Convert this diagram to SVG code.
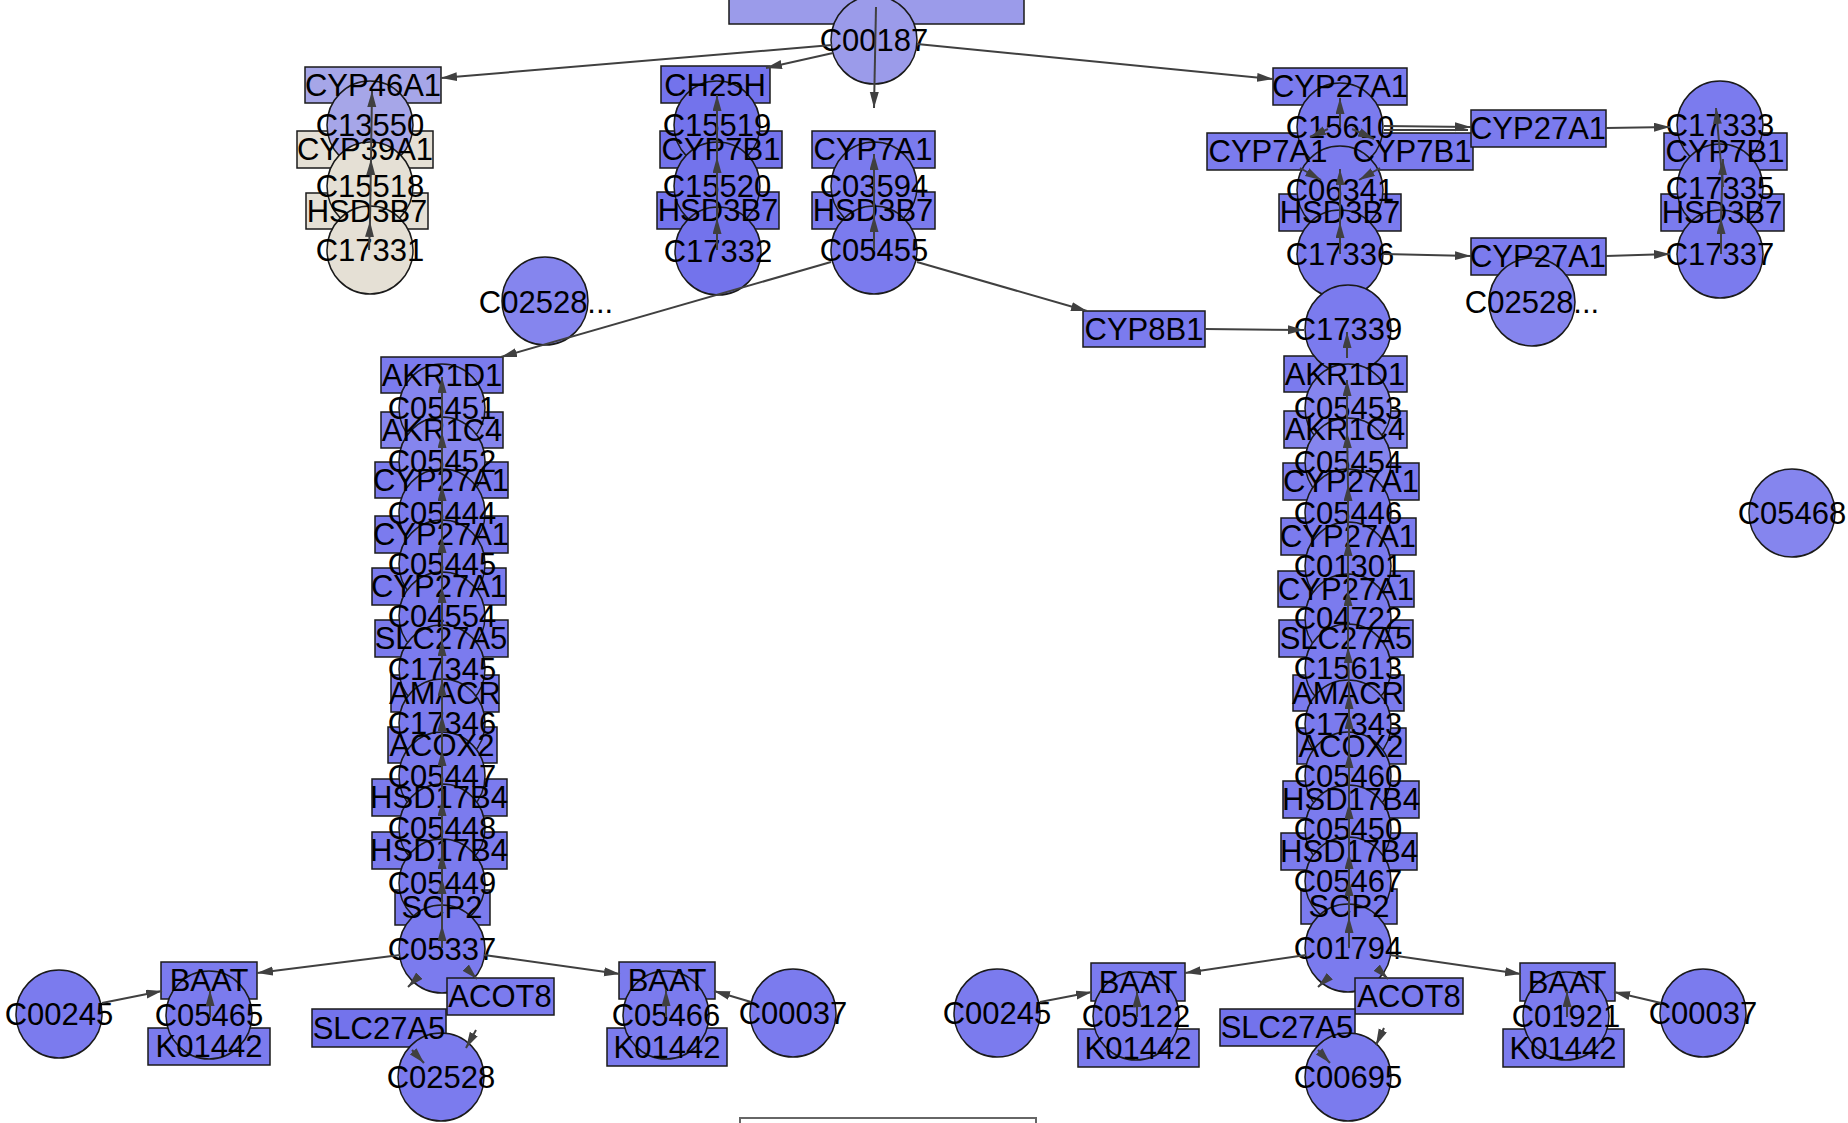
<svg xmlns="http://www.w3.org/2000/svg" width="1848" height="1123" viewBox="0 0 1848 1123">
<style>
.b{stroke:#1a1a1a;stroke-width:1.5}
.s{fill:#7b7bee}
.d{fill:#7373ec}
.l{fill:#8585ee}
.t{fill:#9b9bea}
.p{fill:#a6a6e8}
.e{fill:#e5e0d5}
.lb text{font-family:"Liberation Sans",Arial,sans-serif;font-size:31px;text-anchor:middle;fill:#000}
.edges line{stroke:#404040;stroke-width:2;marker-end:url(#ar)}
.edges line.nm{marker-end:none}
</style>
<defs>
<marker id="ar" markerUnits="userSpaceOnUse" markerWidth="18" markerHeight="10" refX="16" refY="4.5" orient="auto"><path d="M0,0 L16,4.5 L0,9 z" fill="#404040"/></marker>
</defs>
<rect width="1848" height="1123" fill="#fff"/>
<g id="nodes">
<g id="top-node"><rect class="b t" x="729" y="-10" width="295" height="34"/></g>
<g id="CYP46A1"><rect class="b p" x="305" y="67" width="136" height="36"/></g>
<g id="CYP39A1"><rect class="b e" x="297" y="131" width="136" height="37"/></g>
<g id="HSD3B7-1"><rect class="b e" x="306" y="193" width="122" height="36"/></g>
<g id="CH25H"><rect class="b d" x="661" y="66" width="109" height="37"/></g>
<g id="CYP7B1-1"><rect class="b d" x="660" y="131" width="122" height="37"/></g>
<g id="HSD3B7-2"><rect class="b d" x="657" y="192" width="122" height="37"/></g>
<g id="CYP7A1-1"><rect class="b s" x="812" y="131" width="123" height="37"/></g>
<g id="HSD3B7-3"><rect class="b s" x="812" y="192" width="123" height="37"/></g>
<g id="CYP27A1-top"><rect class="b s" x="1273" y="68" width="134" height="37"/></g>
<g id="CYP7A1-2"><rect class="b s" x="1207" y="133" width="122" height="37"/></g>
<g id="CYP7B1-2"><rect class="b s" x="1351" y="133" width="122" height="37"/></g>
<g id="HSD3B7-4"><rect class="b s" x="1279" y="194" width="122" height="37"/></g>
<g id="CYP27A1-m1"><rect class="b s" x="1471" y="110" width="135" height="37"/></g>
<g id="CYP27A1-m2"><rect class="b s" x="1471" y="238" width="135" height="37"/></g>
<g id="CYP7B1-3"><rect class="b s" x="1664" y="133" width="123" height="37"/></g>
<g id="HSD3B7-5"><rect class="b s" x="1661" y="194" width="123" height="37"/></g>
<g id="CYP8B1"><rect class="b s" x="1083" y="311" width="122" height="36"/></g>
<g id="AKR1D1-L"><rect class="b s" x="381" y="357" width="122" height="36"/></g>
<g id="AKR1C4-L"><rect class="b l" x="381" y="412" width="122" height="36"/></g>
<g id="CYP27A1-L1"><rect class="b s" x="375" y="462" width="133" height="36"/></g>
<g id="CYP27A1-L2"><rect class="b s" x="375" y="516" width="133" height="37"/></g>
<g id="CYP27A1-L3"><rect class="b s" x="372" y="568" width="134" height="37"/></g>
<g id="SLC27A5-L"><rect class="b s" x="375" y="620" width="133" height="37"/></g>
<g id="AMACR-L"><rect class="b s" x="391" y="675" width="108" height="37"/></g>
<g id="ACOX2-L"><rect class="b s" x="388" y="727" width="109" height="36"/></g>
<g id="HSD17B4-L1"><rect class="b s" x="372" y="779" width="135" height="37"/></g>
<g id="HSD17B4-L2"><rect class="b s" x="372" y="832" width="135" height="37"/></g>
<g id="SCP2-L"><rect class="b s" x="395" y="890" width="95" height="35"/></g>
<g id="AKR1D1-R"><rect class="b s" x="1284" y="356" width="123" height="36"/></g>
<g id="AKR1C4-R"><rect class="b l" x="1284" y="411" width="123" height="37"/></g>
<g id="CYP27A1-R1"><rect class="b s" x="1283" y="463" width="136" height="37"/></g>
<g id="CYP27A1-R2"><rect class="b s" x="1281" y="518" width="135" height="37"/></g>
<g id="CYP27A1-R3"><rect class="b s" x="1278" y="571" width="136" height="36"/></g>
<g id="SLC27A5-R"><rect class="b s" x="1279" y="620" width="134" height="37"/></g>
<g id="AMACR-R"><rect class="b s" x="1293" y="675" width="111" height="36"/></g>
<g id="ACOX2-R"><rect class="b s" x="1297" y="728" width="109" height="36"/></g>
<g id="HSD17B4-R1"><rect class="b s" x="1283" y="781" width="136" height="37"/></g>
<g id="HSD17B4-R2"><rect class="b s" x="1281" y="833" width="136" height="37"/></g>
<g id="SCP2-R"><rect class="b s" x="1301" y="889" width="96" height="35"/></g>
<g id="C00187"><ellipse class="b t" cx="874" cy="40" rx="43" ry="44"/></g>
<g id="C13550"><ellipse class="b p" cx="370" cy="125" rx="43" ry="44"/></g>
<g id="C15518"><ellipse class="b e" cx="370" cy="186" rx="43" ry="44"/></g>
<g id="C17331"><ellipse class="b e" cx="370" cy="250" rx="43" ry="44"/></g>
<g id="C15519"><ellipse class="b d" cx="717" cy="125" rx="43" ry="44"/></g>
<g id="C15520"><ellipse class="b d" cx="717" cy="186" rx="43" ry="44"/></g>
<g id="C17332"><ellipse class="b d" cx="718" cy="251" rx="43" ry="44"/></g>
<g id="C03594"><ellipse class="b s" cx="874" cy="186" rx="43" ry="44"/></g>
<g id="C05455"><ellipse class="b s" cx="874" cy="250" rx="43" ry="44"/></g>
<g id="C02528-L"><ellipse class="b l" cx="545" cy="301" rx="43" ry="44"/></g>
<g id="C15610"><ellipse class="b s" cx="1340" cy="127" rx="43" ry="44"/></g>
<g id="C06341"><ellipse class="b s" cx="1340" cy="190" rx="43" ry="44"/></g>
<g id="C17336"><ellipse class="b s" cx="1340" cy="254" rx="43" ry="44"/></g>
<g id="C17339"><ellipse class="b s" cx="1348" cy="329" rx="43" ry="44"/></g>
<g id="C17333"><ellipse class="b s" cx="1720" cy="125" rx="43" ry="44"/></g>
<g id="C17335"><ellipse class="b s" cx="1720" cy="188" rx="43" ry="44"/></g>
<g id="C17337"><ellipse class="b s" cx="1720" cy="254" rx="43" ry="44"/></g>
<g id="C02528-R"><ellipse class="b l" cx="1532" cy="302" rx="43" ry="44"/></g>
<g id="C05468"><ellipse class="b l" cx="1792" cy="513" rx="43" ry="44"/></g>
<g id="C05451"><ellipse class="b l" cx="442" cy="408" rx="43" ry="44"/></g>
<g id="C05452"><ellipse class="b l" cx="442" cy="461" rx="43" ry="44"/></g>
<g id="C05444"><ellipse class="b s" cx="442" cy="513" rx="43" ry="44"/></g>
<g id="C05445"><ellipse class="b s" cx="442" cy="564" rx="43" ry="44"/></g>
<g id="C04554"><ellipse class="b s" cx="442" cy="616" rx="43" ry="44"/></g>
<g id="C17345"><ellipse class="b s" cx="442" cy="669" rx="43" ry="44"/></g>
<g id="C17346"><ellipse class="b s" cx="442" cy="723" rx="43" ry="44"/></g>
<g id="C05447"><ellipse class="b s" cx="442" cy="776" rx="43" ry="44"/></g>
<g id="C05448"><ellipse class="b s" cx="442" cy="828" rx="43" ry="44"/></g>
<g id="C05449"><ellipse class="b s" cx="442" cy="883" rx="43" ry="44"/></g>
<g id="C05337"><ellipse class="b s" cx="442" cy="949" rx="43" ry="44"/></g>
<g id="C05453"><ellipse class="b l" cx="1348" cy="408" rx="43" ry="44"/></g>
<g id="C05454"><ellipse class="b l" cx="1348" cy="462" rx="43" ry="44"/></g>
<g id="C05446"><ellipse class="b s" cx="1348" cy="513" rx="43" ry="44"/></g>
<g id="C01301"><ellipse class="b s" cx="1348" cy="566" rx="43" ry="44"/></g>
<g id="C04722"><ellipse class="b s" cx="1348" cy="618" rx="43" ry="44"/></g>
<g id="C15613"><ellipse class="b s" cx="1348" cy="668" rx="43" ry="44"/></g>
<g id="C17343"><ellipse class="b s" cx="1348" cy="724" rx="43" ry="44"/></g>
<g id="C05460"><ellipse class="b s" cx="1348" cy="776" rx="43" ry="44"/></g>
<g id="C05450"><ellipse class="b s" cx="1348" cy="829" rx="43" ry="44"/></g>
<g id="C05467"><ellipse class="b s" cx="1348" cy="881" rx="43" ry="44"/></g>
<g id="C01794"><ellipse class="b s" cx="1348" cy="948" rx="43" ry="44"/></g>
<g id="ACOT8-L"><rect class="b s" x="447" y="978" width="107" height="37"/></g>
<g id="SLC27A5-BL"><rect class="b d" x="312" y="1009" width="134" height="38"/></g>
<g id="C02528"><ellipse class="b s" cx="441" cy="1077" rx="43" ry="44"/></g>
<g id="BAAT-L1"><rect class="b s" x="161" y="962" width="96" height="37"/></g>
<g id="K01442-L1"><rect class="b s" x="148" y="1028" width="122" height="37"/></g>
<g id="C05465"><ellipse class="b s" cx="209" cy="1015" rx="43" ry="44"/></g>
<g id="C00245-L"><ellipse class="b s" cx="59" cy="1014" rx="43" ry="44"/></g>
<g id="BAAT-L2"><rect class="b s" x="619" y="962" width="96" height="37"/></g>
<g id="K01442-L2"><rect class="b s" x="607" y="1028" width="120" height="38"/></g>
<g id="C05466"><ellipse class="b s" cx="666" cy="1015" rx="43" ry="44"/></g>
<g id="C00037-L"><ellipse class="b s" cx="793" cy="1013" rx="43" ry="44"/></g>
<g id="ACOT8-R"><rect class="b s" x="1355" y="978" width="108" height="36"/></g>
<g id="SLC27A5-BR"><rect class="b d" x="1220" y="1009" width="135" height="37"/></g>
<g id="C00695"><ellipse class="b s" cx="1348" cy="1077" rx="43" ry="44"/></g>
<g id="BAAT-R1"><rect class="b s" x="1091" y="963" width="94" height="38"/></g>
<g id="K01442-R1"><rect class="b s" x="1078" y="1029" width="121" height="38"/></g>
<g id="C05122"><ellipse class="b s" cx="1136" cy="1016" rx="43" ry="44"/></g>
<g id="C00245-R"><ellipse class="b s" cx="997" cy="1013" rx="43" ry="44"/></g>
<g id="BAAT-R2"><rect class="b s" x="1520" y="963" width="95" height="38"/></g>
<g id="K01442-R2"><rect class="b s" x="1503" y="1029" width="121" height="38"/></g>
<g id="C01921"><ellipse class="b s" cx="1566" cy="1016" rx="43" ry="44"/></g>
<g id="C00037-R"><ellipse class="b s" cx="1703" cy="1013" rx="43" ry="44"/></g>
<g id="legend-box"><rect x="740" y="1118" width="296" height="20" fill="#fff" stroke="#666" stroke-width="2"/></g>
</g>
<g id="labels" class="lb">
<text x="373" y="96">CYP46A1</text>
<text x="365" y="160">CYP39A1</text>
<text x="367" y="222">HSD3B7</text>
<text x="715" y="96">CH25H</text>
<text x="721" y="160">CYP7B1</text>
<text x="718" y="221">HSD3B7</text>
<text x="873" y="160">CYP7A1</text>
<text x="873" y="221">HSD3B7</text>
<text x="1340" y="97">CYP27A1</text>
<text x="1268" y="162">CYP7A1</text>
<text x="1412" y="162">CYP7B1</text>
<text x="1340" y="223">HSD3B7</text>
<text x="1538" y="139">CYP27A1</text>
<text x="1538" y="267">CYP27A1</text>
<text x="1725" y="162">CYP7B1</text>
<text x="1722" y="223">HSD3B7</text>
<text x="1144" y="340">CYP8B1</text>
<text x="442" y="386">AKR1D1</text>
<text x="442" y="441">AKR1C4</text>
<text x="441" y="491">CYP27A1</text>
<text x="441" y="545">CYP27A1</text>
<text x="439" y="597">CYP27A1</text>
<text x="441" y="649">SLC27A5</text>
<text x="445" y="704">AMACR</text>
<text x="442" y="756">ACOX2</text>
<text x="439" y="808">HSD17B4</text>
<text x="439" y="861">HSD17B4</text>
<text x="442" y="918">SCP2</text>
<text x="1345" y="385">AKR1D1</text>
<text x="1345" y="440">AKR1C4</text>
<text x="1351" y="492">CYP27A1</text>
<text x="1348" y="547">CYP27A1</text>
<text x="1346" y="600">CYP27A1</text>
<text x="1346" y="649">SLC27A5</text>
<text x="1348" y="704">AMACR</text>
<text x="1351" y="757">ACOX2</text>
<text x="1351" y="810">HSD17B4</text>
<text x="1349" y="862">HSD17B4</text>
<text x="1349" y="917">SCP2</text>
<text x="874" y="51">C00187</text>
<text x="370" y="136">C13550</text>
<text x="370" y="197">C15518</text>
<text x="370" y="261">C17331</text>
<text x="717" y="136">C15519</text>
<text x="717" y="197">C15520</text>
<text x="718" y="262">C17332</text>
<text x="874" y="197">C03594</text>
<text x="874" y="261">C05455</text>
<text x="546" y="313">C02528...</text>
<text x="1340" y="138">C15610</text>
<text x="1340" y="201">C06341</text>
<text x="1340" y="265">C17336</text>
<text x="1348" y="340">C17339</text>
<text x="1720" y="136">C17333</text>
<text x="1720" y="199">C17335</text>
<text x="1720" y="265">C17337</text>
<text x="1532" y="313">C02528...</text>
<text x="1792" y="524">C05468</text>
<text x="442" y="419">C05451</text>
<text x="442" y="472">C05452</text>
<text x="442" y="524">C05444</text>
<text x="442" y="575">C05445</text>
<text x="442" y="627">C04554</text>
<text x="442" y="680">C17345</text>
<text x="442" y="734">C17346</text>
<text x="442" y="787">C05447</text>
<text x="442" y="839">C05448</text>
<text x="442" y="894">C05449</text>
<text x="442" y="960">C05337</text>
<text x="1348" y="419">C05453</text>
<text x="1348" y="473">C05454</text>
<text x="1348" y="524">C05446</text>
<text x="1348" y="577">C01301</text>
<text x="1348" y="629">C04722</text>
<text x="1348" y="679">C15613</text>
<text x="1348" y="735">C17343</text>
<text x="1348" y="787">C05460</text>
<text x="1348" y="840">C05450</text>
<text x="1348" y="892">C05467</text>
<text x="1348" y="959">C01794</text>
<text x="500" y="1007">ACOT8</text>
<text x="379" y="1039">SLC27A5</text>
<text x="441" y="1088">C02528</text>
<text x="209" y="991">BAAT</text>
<text x="209" y="1057">K01442</text>
<text x="209" y="1026">C05465</text>
<text x="59" y="1025">C00245</text>
<text x="667" y="991">BAAT</text>
<text x="667" y="1058">K01442</text>
<text x="666" y="1026">C05466</text>
<text x="793" y="1024">C00037</text>
<text x="1409" y="1007">ACOT8</text>
<text x="1287" y="1038">SLC27A5</text>
<text x="1348" y="1088">C00695</text>
<text x="1138" y="993">BAAT</text>
<text x="1138" y="1059">K01442</text>
<text x="1136" y="1027">C05122</text>
<text x="997" y="1024">C00245</text>
<text x="1567" y="993">BAAT</text>
<text x="1563" y="1059">K01442</text>
<text x="1566" y="1027">C01921</text>
<text x="1703" y="1024">C00037</text>
</g>
<g id="edges" class="edges">
<line x1="832" y1="45" x2="441" y2="78"/>
<line x1="833" y1="53" x2="766" y2="68"/>
<line x1="876" y1="7" x2="874" y2="108"/>
<line x1="917" y1="44" x2="1273" y2="79"/>
<line x1="831" y1="262" x2="501" y2="357"/>
<line x1="917" y1="262" x2="1087" y2="311"/>
<line x1="1205" y1="329" x2="1304" y2="330"/>
<line x1="369" y1="250" x2="370" y2="221"/>
<line x1="370" y1="221" x2="371" y2="159"/>
<line x1="371" y1="159" x2="372" y2="91"/>
<line x1="717" y1="250" x2="717" y2="218"/>
<line x1="717" y1="218" x2="717" y2="157"/>
<line x1="717" y1="157" x2="717" y2="95"/>
<line x1="874" y1="250" x2="874" y2="216"/>
<line x1="874" y1="216" x2="874" y2="154"/>
<line x1="1340" y1="254" x2="1340" y2="222"/>
<line x1="1340" y1="222" x2="1340" y2="169"/>
<line x1="1340" y1="127" x2="1340" y2="98"/>
<line x1="1328" y1="129" x2="1310" y2="137"/>
<line x1="1352" y1="129" x2="1374" y2="139"/>
<line x1="1300" y1="168" x2="1321" y2="180"/>
<line x1="1380" y1="168" x2="1359" y2="180"/>
<line x1="1721" y1="254" x2="1721" y2="218"/>
<line x1="1721" y1="218" x2="1723" y2="159"/>
<line x1="1723" y1="187" x2="1716" y2="108"/>
<line x1="1384" y1="126" x2="1471" y2="127"/>
<line class="nm" x1="1384" y1="130" x2="1468" y2="130"/>
<line x1="1606" y1="128" x2="1670" y2="127"/>
<line x1="1384" y1="254" x2="1471" y2="256"/>
<line x1="1606" y1="256" x2="1670" y2="254"/>
<line x1="442" y1="948" x2="442" y2="925"/>
<line x1="442" y1="925" x2="442" y2="878"/>
<line x1="442" y1="878" x2="442" y2="853"/>
<line x1="442" y1="853" x2="442" y2="800"/>
<line x1="442" y1="800" x2="442" y2="750"/>
<line x1="442" y1="750" x2="442" y2="715"/>
<line x1="442" y1="715" x2="442" y2="680"/>
<line x1="442" y1="680" x2="442" y2="640"/>
<line x1="442" y1="640" x2="442" y2="587"/>
<line x1="442" y1="587" x2="442" y2="537"/>
<line x1="442" y1="537" x2="442" y2="485"/>
<line x1="442" y1="485" x2="442" y2="432"/>
<line x1="442" y1="432" x2="442" y2="377"/>
<line x1="1349" y1="948" x2="1349" y2="917"/>
<line x1="1349" y1="917" x2="1349" y2="880"/>
<line x1="1349" y1="880" x2="1349" y2="853"/>
<line x1="1349" y1="853" x2="1349" y2="803"/>
<line x1="1349" y1="803" x2="1349" y2="752"/>
<line x1="1349" y1="752" x2="1349" y2="713"/>
<line x1="1349" y1="713" x2="1349" y2="693"/>
<line x1="1349" y1="693" x2="1348" y2="647"/>
<line x1="1348" y1="647" x2="1348" y2="590"/>
<line x1="1348" y1="590" x2="1348" y2="540"/>
<line x1="1348" y1="540" x2="1348" y2="485"/>
<line x1="1348" y1="485" x2="1347" y2="432"/>
<line x1="1347" y1="432" x2="1347" y2="380"/>
<line x1="1347" y1="358" x2="1347" y2="332"/>
<line x1="400" y1="955" x2="257" y2="973"/>
<line x1="102" y1="1003" x2="162" y2="991"/>
<line x1="210" y1="1017" x2="210" y2="990"/>
<line x1="484" y1="955" x2="620" y2="974"/>
<line x1="751" y1="1002" x2="714" y2="991"/>
<line x1="666" y1="1017" x2="666" y2="990"/>
<line x1="467" y1="969" x2="477" y2="979"/>
<line x1="418" y1="977" x2="408" y2="987"/>
<line x1="476" y1="1030" x2="466" y2="1048"/>
<line x1="412" y1="1050" x2="424" y2="1063"/>
<line x1="1306" y1="955" x2="1185" y2="973"/>
<line x1="1040" y1="1002" x2="1092" y2="992"/>
<line x1="1137" y1="1017" x2="1137" y2="991"/>
<line x1="1390" y1="955" x2="1521" y2="974"/>
<line x1="1661" y1="1003" x2="1614" y2="992"/>
<line x1="1567" y1="1017" x2="1567" y2="991"/>
<line x1="1378" y1="969" x2="1388" y2="979"/>
<line x1="1329" y1="977" x2="1318" y2="987"/>
<line x1="1384" y1="1028" x2="1376" y2="1045"/>
<line x1="1318" y1="1050" x2="1330" y2="1063"/>
</g>
</svg>
